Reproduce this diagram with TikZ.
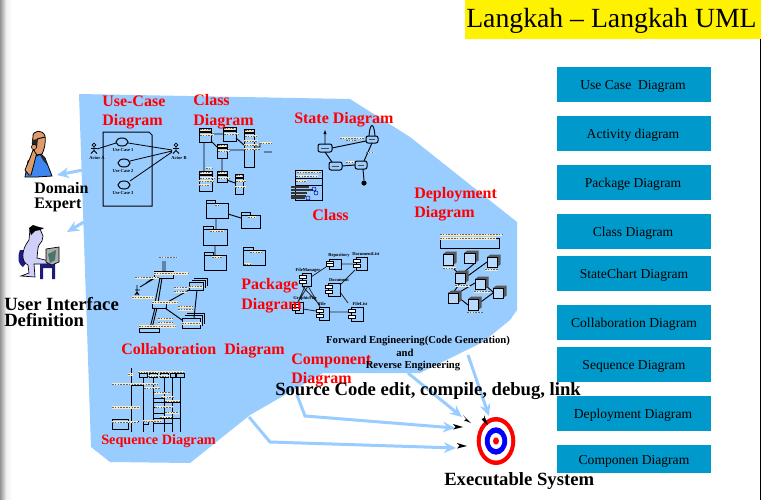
\documentclass[tikz,border=0pt]{standalone}
\usepackage{fontspec}
\setmainfont{Liberation Serif}
\usetikzlibrary{arrows.meta,shadings}
\definecolor{bluearea}{HTML}{99CCFF}
\definecolor{tealbox}{HTML}{0099CC}
\definecolor{cream}{HTML}{F5E8C8}
\definecolor{flesh}{HTML}{DE9C6C}
\definecolor{shirt}{HTML}{3F86F0}
\definecolor{lav}{HTML}{CFCFFA}
\definecolor{navyd}{HTML}{1A1A80}
\tikzset{
  redlab/.style={anchor=base west,inner sep=0pt,text=red,font=\fontsize{12}{14}\selectfont\bfseries},
  blacklab/.style={anchor=base west,inner sep=0pt,text=black,font=\fontsize{14}{16}\selectfont\bfseries},
  smalllab/.style={anchor=base,inner sep=0pt,text=black,font=\fontsize{8}{10}\selectfont\bfseries},
  tiny/.style={inner sep=0pt,text=black,font=\fontsize{3.4}{4}\selectfont\bfseries},
  sidebox/.style={anchor=north west,inner sep=0pt,minimum width=115.5pt,fill=tealbox},
  sidetext/.style={inner sep=0pt,text=black,font=\fontsize{10.2}{12}\selectfont},
  mini/.style={draw=black,line width=.75pt},
  flow/.style={draw=bluearea,line width=2.25pt,-{Stealth[length=9pt,width=8pt]}},
  dart/.style={fill=black,draw=none},
}
\newcommand{\crm}[4]{\fill[cream] (#1,#2) rectangle (#3,#4);\draw[black!60,line width=.4pt,dash pattern=on 1.2pt off .9pt] (#1,{(#2+#4)/2}) -- (#3,{(#2+#4)/2});}
\newcommand{\tabbox}[5]{\draw[mini] (#1,#2) rectangle (#3,#4);\draw[mini] (#1,#2) -- (#1,#2-3) -- (#5,#2-3) -- (#5,#2);}
\newcommand{\classbox}[4]{\draw[mini] (#1,#2) rectangle (#3,#4);\draw[black,line width=.9pt] (#1,#2+4) -- (#3,#2+4);\crm{#1+1}{#2+1}{#3-1}{#2+2.5}\crm{#1+1}{#2+6}{#3+3}{#2+8}}
\newcommand{\stbox}[4]{\draw[mini,rounded corners=1.5pt] (#1,#2) rectangle (#3,#4);\draw[black!70,line width=.4pt] (#1+3,{(#2+#4)/2}) -- (#3-3,{(#2+#4)/2});}
\newcommand{\compo}[4]{\draw[mini] (#1,#2) rectangle (#3,#4);\draw[mini,fill=white] (#1-3,#2+2.5) rectangle (#1+4,#2+5.2);\draw[mini,fill=white] (#1-3,#4-5.2) rectangle (#1+4,#4-2.5);}
\newcommand{\cube}[4]{\fill[gray!70!black] (#3,#2) -- (#3+3.5,#2-2.5) -- (#3+3.5,#4-2.5) -- (#3,#4) -- cycle;\fill[gray!70!black] (#1,#2) -- (#1+3.5,#2-2.5) -- (#3+3.5,#2-2.5) -- (#3,#2) -- cycle;\draw[mini,fill=bluearea!70!white] (#1,#2) rectangle (#3,#4);}
\newcommand{\actor}[2]{\draw[black,line width=.55pt] (#1,#2) circle (1.8) (#1,#2+1.8) -- (#1,#2+5.5) (#1-3,#2+3.4) -- (#1+3,#2+3.4) (#1-3,#2+8.5) -- (#1,#2+5.5) -- (#1+3,#2+8.5);}
\begin{document}
\begin{tikzpicture}[x=.75pt,y=-.75pt]
\useasboundingbox (0,0) rectangle (761,500);
\fill[white] (0,0) rectangle (761,500);
\shade[left color=gray!85,right color=white,middle color=gray!12] (0,0) rectangle (12,500);
\draw[black,line width=.9pt] (760.4,0) -- (760.4,500);

% blue area
\fill[bluearea] (79,94) -- (350,99) -- (410,137) -- (517,222) -- (517,310) -- (510,320) -- (483,342) -- (420,373) -- (323,373) -- (290,392) -- (250,415) -- (190,463) -- (110,462) -- (91,447) -- cycle;

% title
\node[anchor=north west,inner sep=0pt,fill=yellow,minimum width=222pt,minimum height=29.25pt] (titlebg) at (465,0) {};
\node[anchor=base west,inner sep=0pt,font=\fontsize{20.8}{24}\selectfont] (title) at (466,27) {Langkah – Langkah UML};

% side boxes
\node[sidebox,minimum height=26.25pt] (b1) at (557,67) {};
\node[sidebox,minimum height=26.25pt] (b2) at (557,116) {};
\node[sidebox,minimum height=26.25pt] (b3) at (557,165) {};
\node[sidebox,minimum height=26.25pt] (b4) at (557,214) {};
\node[sidebox,minimum height=26.25pt] (b5) at (557,256) {};
\node[sidebox,minimum height=26.25pt] (b6) at (557,305) {};
\node[sidebox,minimum height=26.25pt] (b7) at (557,347) {};
\node[sidebox,minimum height=26.25pt] (b8) at (557,396) {};
\node[sidebox,minimum height=21pt] (b9) at (557,445) {};
\node[sidetext] (s1) at (633,86) {Use Case\ \ Diagram};
\node[sidetext] (s2) at (633,135) {Activity diagram};
\node[sidetext] (s3) at (633,184) {Package Diagram};
\node[sidetext] (s4) at (633,233) {Class Diagram};
\node[sidetext] (s5) at (634,275) {StateChart Diagram};
\node[sidetext] (s6) at (634,324) {Collaboration Diagram};
\node[sidetext] (s7) at (634,366) {Sequence Diagram};
\node[sidetext] (s8) at (633,415) {Deployment Diagram};
\node[sidetext] (s9) at (634,461) {Componen Diagram};

% flow arrows
\coordinate (fa1s) at (83,170); \coordinate (fa1e) at (57,175);
\coordinate (fa2s) at (84,222); \coordinate (fa2e) at (67,232);
\draw[flow] (fa1s) -- (fa1e);
\draw[flow] (fa2s) -- (fa2e);
\coordinate (c1) at (297,395); \coordinate (c2) at (305,416); \coordinate (c3) at (455,428);
\draw[flow] (c1) -- (c2) -- (c3);
\coordinate (d1) at (249,417); \coordinate (d2) at (270,442); \coordinate (d3) at (456,448);
\draw[flow] (d1) -- (d2) -- (d3);
\coordinate (e1) at (408,373); \coordinate (e2) at (462,417);
\draw[flow] (e1) -- (e2);
\coordinate (f1) at (468,355); \coordinate (f2) at (489,416);
\draw[flow] (f1) -- (f2);

% target
\fill[red] (496,441) ellipse [x radius=19.3,y radius=24];
\fill[white] (496,441) ellipse [x radius=15.2,y radius=19.5];
\fill[blue] (496,441) ellipse [x radius=11.2,y radius=13.7];
\fill[white] (496,441) ellipse [x radius=6.3,y radius=8];
\fill[red] (496,441) ellipse [x radius=3,y radius=3.6];
% darts
\fill[dart] (463,415) -- (471,423) -- (466,421) -- (464,421) -- (466,419) -- cycle;
\fill[dart] (453,424) -- (463,427) -- (453,429.5) -- (455.5,427) -- cycle;
\fill[dart] (457,443) -- (467,446) -- (457,448.5) -- (459.5,445.5) -- cycle;
\fill[dart] (484,415) -- (488,425) -- (484,422) -- (481.5,419) -- (484,418) -- cycle;

% ---------- use case mini
\draw[mini] (103,132) -- (149,132) -- (152,135) -- (152,206) -- (103,206) -- cycle;
\actor{94}{145}\actor{176}{145}
\draw[black,line width=.6pt] (97,149) -- (116,143) (128,143) -- (172,150) (130,161) -- (172,151) (130,181) -- (172,152);
\draw[mini,fill=bluearea] (122,142) ellipse [x radius=6,y radius=4];
\draw[mini,fill=bluearea] (124,163) ellipse [x radius=6,y radius=4];
\draw[mini,fill=bluearea] (124,185) ellipse [x radius=6,y radius=4];
\node[tiny] (uc1) at (123,150) {Use Case 1};
\node[tiny] (uc2) at (123,171) {Use Case 2};
\node[tiny] (uc3) at (123,193) {Use Case 3};
\node[tiny] (aa) at (97,158) {Actor A};
\node[tiny] (ab) at (179,158) {Actor B};

% ---------- class mini
\draw[black,line width=.7pt] (211,134) -- (223,134) (236,138) -- (244,145) (211,141) -- (217,147) (227,150) -- (244,150) (204,142) -- (204,171) (222,158) -- (222,171) (227,180) -- (235,183) (254,147) -- (260,147) -- (260,143) (264,152) -- (272,152);
\classbox{199}{128}{211}{142}
\classbox{223}{127}{236}{141}
\classbox{217}{144}{227}{158}
\classbox{244}{129}{254}{167}
\classbox{199}{171}{212}{191}
\classbox{217}{171}{227}{182}
\classbox{235}{174}{243}{194}
\crm{244}{140}{258}{142}\crm{244}{144}{258}{146}\crm{244}{148}{260}{150}
\crm{260}{142}{272}{144}\crm{199}{180}{214}{182}\crm{199}{184}{210}{186}\crm{235}{186}{246}{188}\crm{206}{167}{212}{169}

% ---------- package mini
\draw[black,line width=.7pt] (228,214) -- (241,218) (216,218) -- (216,229) (215,245) -- (215,255);
\tabbox{206}{203}{228}{218}{215}
\tabbox{241}{215}{260}{228}{250}
\tabbox{203}{229}{227}{245}{213}
\tabbox{204}{255}{226}{270}{213}
\tabbox{243}{250}{265}{265}{253}
\crm{215}{204}{219}{206}\crm{248}{216}{256}{218}\crm{210}{230}{224}{232}\crm{212}{256}{222}{258}\crm{250}{251}{262}{253}\crm{244}{263}{251}{265}

% ---------- state mini
\draw[black,line width=.7pt] (332,148) -- (366,141) (325,152) -- (332,162) (342,166) -- (355,165) (364,161) -- (372,143) (325,144) -- (325,132) (363,169) -- (364,180);
\draw[black,line width=.7pt] (369,136) .. controls (370,122) and (374,122) .. (375,136);
\fill[black] (325,130) -- (326.5,134) -- (323.5,134) -- cycle;
\fill[black] (364,183) circle (2.6);
\stbox{318}{144}{332}{152}
\stbox{366}{136}{378}{143}
\stbox{329}{162}{342}{170}
\stbox{355}{161}{367}{169}
\crm{340}{137}{364}{139}\crm{346}{140}{356}{141}\crm{346}{161}{354}{163}\crm{366}{152}{374}{153}
% class box
\draw[mini] (295,170) rectangle (322,200);
\draw[mini] (295,178) -- (322,178) (295,185) -- (322,185);
\crm{297}{171}{321}{173}\crm{296}{175}{318}{177}\crm{296}{180}{307}{182}
\foreach \yy/\xx in {187/309,190/313,193/307,196/306,198/305}{\draw[black!80,line width=.8pt] (291,\yy) -- (\xx,\yy);}
\draw[blue!60!black,line width=.4pt] (314,189) circle (2) (316,193) circle (2) (308,198) circle (2);

% ---------- component mini
\draw[black!85,line width=.6pt] (311,277) -- (326,267) (341,264) -- (353,264) (340,285) -- (355,270) (340,292) -- (348,303) (303,309) -- (316,311) (329,312) -- (348,312) (305,286) -- (298,302) (308,286) -- (320,307) (302,286) -- (320,305) (298,302) -- (308,286);
\compo{302}{273}{311}{286}
\compo{329}{259}{341}{269}
\compo{356}{257}{367}{270}
\compo{328}{283}{340}{296}
\compo{295}{302}{303}{313}
\compo{319}{307}{329}{320}
\compo{351}{307}{363}{321}
\node[tiny] (cp1) at (308,270) {FileManager};
\node[tiny] (cp2) at (339,255) {Repository};
\node[tiny] (cp3) at (366,254) {DocumentList};
\node[tiny] (cp4) at (339,280) {Document};
\node[tiny] (cp5) at (305,298) {GraphicFile};
\node[tiny] (cp6) at (322,304) {File};
\node[tiny] (cp7) at (360,304) {FileList};

% ---------- deployment mini
\draw[black,line width=.7pt] (452,267) -- (458,273) (463,273) -- (475,263) (465,278) -- (487,262) (458,293) -- (475,283) (458,297) -- (468,305) (478,304) -- (493,293) (485,285) -- (493,292) (460,283) -- (453,293);
\draw[mini] (440,238) rectangle (499,248);
\crm{440}{233.5}{502}{236}\crm{440}{237}{496}{239.5}
\cube{443}{254}{453}{265}
\cube{464}{253}{475}{263}
\cube{487}{257}{497}{267}
\cube{455}{273}{465}{283}
\cube{475}{279}{485}{289}
\cube{448}{293}{458}{303}
\cube{468}{299}{478}{310}
\cube{493}{288}{503}{298}
\crm{443}{267}{456}{269}\crm{485}{269}{498}{270.5}\crm{455}{285}{470}{286.5}\crm{474}{291}{490}{292.5}\crm{467}{311.5}{483}{313}

% ---------- collaboration mini
\draw[black,line width=.7pt] (163,271) -- (163,261) (165,261) -- (165,271) (140,287) -- (155,278) (146,283) -- (155,277) (160,278) -- (155,303) (162,278) -- (158,303) (166,303) -- (189,290) (197,290) -- (194,318) (155,308) -- (150,328) (157,308) -- (152,328) (165,308) -- (182,320);
\draw[black,line width=.7pt] (137,285) -- (137,295) (135,290) -- (140,290) (135,295) -- (137,292) -- (139,295);
\crm{159}{256.5}{178}{258}
\draw[mini] (154,271) rectangle (173,278);\crm{154}{271.5}{188}{274.5}
\crm{132}{296}{154}{298.5}
\draw[mini] (152,303) rectangle (166,308);\crm{152}{300.5}{178}{304}
\draw[mini] (194,278) -- (207,278) -- (207,286) (192,280) -- (205,280) -- (205,288);
\draw[mini] (189,282) rectangle (203,290);\crm{189}{285.5}{203}{288}
\draw[mini] (139,328) rectangle (159,332);\crm{139}{325}{176}{328}
\draw[mini] (187,313) -- (204,313) -- (204,324) (185,315) -- (202,315) -- (202,326);
\draw[mini] (182,318) rectangle (200,328);\crm{182}{322}{201}{324.5}
\crm{135}{277}{159}{278.5}\crm{174}{287}{188}{288.5}\crm{174}{291}{187}{292.5}\crm{178}{306}{193}{307.5}\crm{178}{309}{193}{310.5}\crm{158}{318}{173}{319.5}\crm{158}{322}{173}{323.5}

% ---------- sequence mini
\draw[black,line width=.7pt] (131,368) -- (131,432) (143,377) -- (143,432) (153,377) -- (153,432) (164,377) -- (164,432) (172,377) -- (172,432) (180,377) -- (180,432);
\draw[black,line width=.7pt] (131,385) -- (143,385) (143,388) -- (153,388) (153,398) -- (164,398) (153,402) -- (180,402) (153,407) -- (172,407) (153,413) -- (172,413) (153,418) -- (180,418) (153,423) -- (172,423);
\draw[mini] (139,373) rectangle (147,377);
\draw[mini] (149,373) rectangle (157,377);
\draw[mini] (160,373) rectangle (168,377);
\draw[mini] (170,373) rectangle (175,377);
\draw[mini] (176,373) rectangle (184,377);
\draw[mini] (112,419) rectangle (128,429);
\draw[black,line width=.7pt] (128,421) -- (139,421);
\draw[mini] (143,421) rectangle (148,424);
\crm{138}{371}{184}{373}\crm{148}{375}{170}{377}\crm{128}{373}{133}{376}
\crm{112}{383}{158}{385}\crm{144}{387}{160}{389}\crm{154}{392}{170}{393.5}\crm{161}{396}{174}{398}\crm{165}{400}{180}{402}\crm{112}{406}{140}{409}\crm{155}{406}{173}{408}\crm{165}{412}{179}{413.5}\crm{160}{416}{172}{418}\crm{112}{421}{138}{423}\crm{143}{420}{162}{422}

% ---------- domain expert clipart
\fill[shirt,draw=black,line width=.6pt] (25,177) -- (28,161) -- (34,157) -- (41,154) -- (45,158) -- (52,176) -- (37,177) -- cycle;
\fill[black!85] (40,155) -- (44,156) -- (47,165) -- (43,160) -- cycle;
\fill[flesh,draw=black,line width=.6pt] (29,175) -- (25,170) -- (30,158) -- (33,150) -- (37,152) -- (34,164) -- (31,175) -- cycle;
\fill[flesh,draw=black,line width=.6pt] (33,137) .. controls (32,130) and (43,129) .. (45,136) .. controls (46,144) and (44,150) .. (42,154) -- (37,155) .. controls (34,151) and (31,147) .. (33,137) -- cycle;
\fill[black!85] (32,140) -- (38,139) -- (37,147) -- (33,150) -- cycle;
\draw[black,line width=.7pt] (37,139) -- (45,137);
\fill[flesh,draw=black,line width=.4pt] (34,147) circle (2.6);

% ---------- user clipart
\fill[navyd] (20,250) .. controls (17,258) and (18,264) .. (23,267) -- (27,262) -- (26,250) -- cycle;
\fill[navyd] (40,264) -- (55,264) -- (55,279) -- (52,279) -- (52,268) -- (43,268) -- (43,279) -- (40,279) -- cycle;
\fill[lav,draw=black,line width=.5pt] (29,240) .. controls (21,250) and (21,262) .. (28,265) -- (29,273) -- (21,276) -- (35,277) -- (34,264) -- (47,264) -- (49,261) -- (37,258) -- (38,248) -- (39,245) -- (42,241) -- (43,236) -- (40,229) -- (30,229) -- cycle;
\fill[black] (29,228) -- (33,225) -- (39,227) -- (44,228) -- (40,230) -- (35,231) -- (31,235) -- cycle;
\fill[gray!65,draw=black,line width=.5pt] (46,249) -- (59,247) -- (59,262) -- (52,265) -- (46,262) -- cycle;
\fill[black!70!cyan!70!green] (48,254) -- (56,250) -- (55,260) -- (50,263) -- cycle;

% ---------- labels
\node[redlab] (l1) at (102,106) {Use-Case};
\node[redlab] (l1b) at (102,125) {Diagram};
\node[redlab] (l2) at (193,105) {Class};
\node[redlab] (l2b) at (193,125) {Diagram};
\node[redlab] (l3) at (294,123) {State Diagram};
\node[redlab] (l4) at (312,220) {Class};
\node[redlab] (l5) at (414,198) {Deployment};
\node[redlab] (l5b) at (414,217) {Diagram};
\node[redlab] (l6) at (241,289) {Package};
\node[redlab] (l6b) at (241,309) {Diagram};
\node[redlab] (l7) at (121,354) {Collaboration\ \ Diagram};
\node[redlab] (l8) at (291,364) {Component};
\node[redlab] (l8b) at (291,383) {Diagram};
\node[redlab,font=\fontsize{10.7}{12}\selectfont\bfseries] (l9) at (101,444) {Sequence Diagram};

\node[blacklab,font=\fontsize{12}{14}\selectfont\bfseries] (t1) at (34,193) {Domain};
\node[blacklab,font=\fontsize{12}{14}\selectfont\bfseries] (t1b) at (34,208) {Expert};
\node[blacklab] (t2) at (4,310) {User Interface};
\node[blacklab] (t2b) at (4,326) {Definition};
\node[smalllab] (t3) at (418,343) {Forward Engineering(Code Generation)};
\node[smalllab] (t3b) at (405,356) {and};
\node[smalllab] (t3c) at (413,368) {Reverse Engineering};
\node[blacklab] (t4) at (275,395) {Source Code edit, compile, debug, link};
\node[blacklab] (t5) at (444,485) {Executable System};
\end{tikzpicture}
\end{document}
